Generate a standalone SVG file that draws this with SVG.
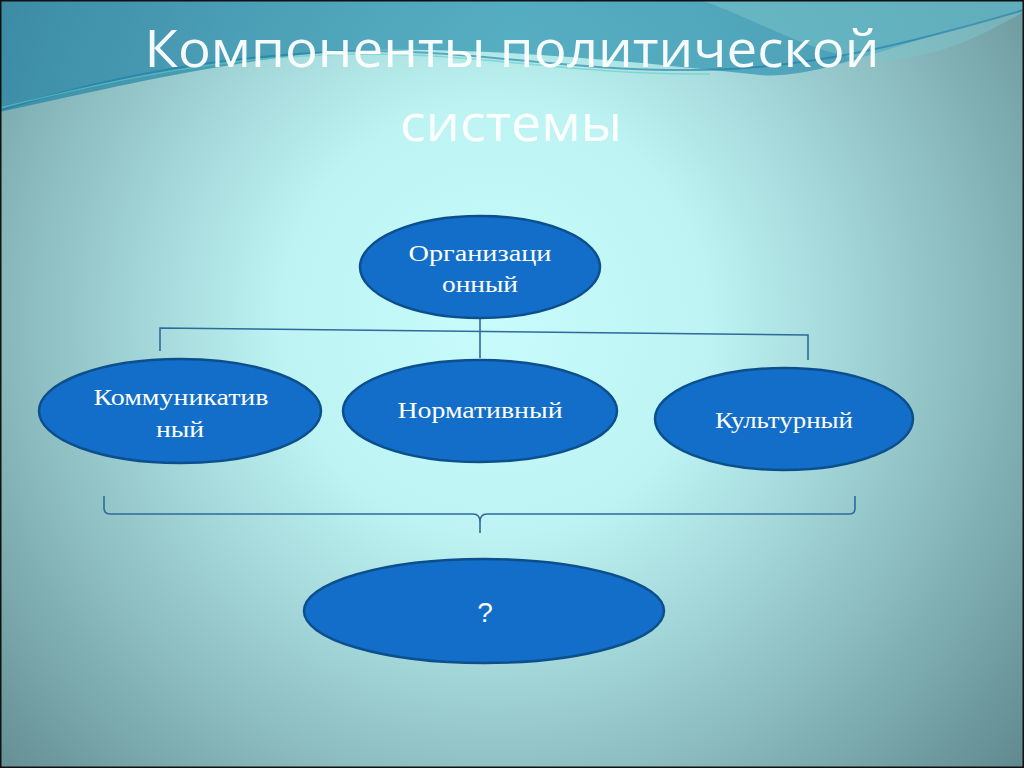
<svg xmlns="http://www.w3.org/2000/svg" width="1024" height="768" viewBox="0 0 1024 768">
<defs>
<radialGradient id="bg" cx="495" cy="320" r="720" gradientUnits="userSpaceOnUse">
<stop offset="0" stop-color="#c8fcfc"/>
<stop offset="0.3" stop-color="#bdf3f3"/>
<stop offset="0.6" stop-color="#93c5c8"/>
<stop offset="1" stop-color="#5a8388"/>
</radialGradient>
<linearGradient id="band" x1="0" y1="0" x2="1" y2="0">
<stop offset="0" stop-color="#2e86a6"/>
<stop offset="0.5" stop-color="#3fa0b8"/>
<stop offset="1" stop-color="#3b95b0"/>
</linearGradient>
<style>
.node ellipse{fill:#126ec8;stroke:#0c4f8c;stroke-width:2.5}
.lbl{font-family:"Liberation Serif","DejaVu Serif",serif;font-size:24px;fill:#ffffff;text-anchor:middle}
.conn{fill:none;stroke:#2f6a9a;stroke-width:1.6}
.title{font-family:"Open Sans","Noto Sans",sans-serif;font-size:52px;fill:#ffffff;text-anchor:middle;opacity:0.95}
</style>
</defs>
<rect width="1024" height="768" fill="url(#bg)"/>
<path d="M0,0 H1024 V10 C900,40 820,80 760,75 C620,60 420,40 300,55 C180,70 80,95 0,112 Z" fill="url(#band)" opacity="0.8"/>
<path d="M700,0 C760,20 820,60 880,60 C940,60 990,30 1024,12 V0 Z" fill="#7cc6cc" opacity="0.5"/>
<path d="M0,110 C100,80 200,58 330,52 C460,46 560,72 700,70 C820,68 920,40 1024,10" fill="none" stroke="#1c7aa8" stroke-width="2" opacity="0.6"/>
<path d="M0,108 C120,78 230,55 360,54 C480,53 580,76 710,74" fill="none" stroke="#5ad0c0" stroke-width="1.5" opacity="0.6"/>
<rect x="0.5" y="0.5" width="1023" height="767" fill="none" stroke="#111" stroke-width="2"/>
<text class="title" x="512" y="67" textLength="735" lengthAdjust="spacingAndGlyphs">Компоненты политической</text>
<text class="title" x="511" y="141" textLength="222" lengthAdjust="spacingAndGlyphs">системы</text>
<g id="connectors">
<path class="conn" d="M480,318 V358"/>
<path class="conn" d="M160,351 V328 L808,335 V360"/>
<path class="conn" d="M104,496 V508 Q104,514 110,514 H473 Q480,514 480,522 V533 M480,522 Q480,514 487,514 H850 Q855,514 855,508 V496"/>
</g>
<g id="n-org" class="node"><ellipse cx="480" cy="267" rx="120" ry="51"/><text class="lbl" x="480" y="261" textLength="143" lengthAdjust="spacingAndGlyphs">Организаци</text><text class="lbl" x="480" y="292" textLength="76" lengthAdjust="spacingAndGlyphs">онный</text></g>
<g id="n-komm" class="node"><ellipse cx="180" cy="411" rx="141" ry="52"/><text class="lbl" x="181" y="405" textLength="175" lengthAdjust="spacingAndGlyphs">Коммуникатив</text><text class="lbl" x="180" y="437" textLength="48" lengthAdjust="spacingAndGlyphs">ный</text></g>
<g id="n-norm" class="node"><ellipse cx="480" cy="411" rx="137" ry="51"/><text class="lbl" x="480" y="418" textLength="165" lengthAdjust="spacingAndGlyphs">Нормативный</text></g>
<g id="n-kult" class="node"><ellipse cx="784" cy="419" rx="129" ry="51"/><text class="lbl" x="784" y="428" textLength="138" lengthAdjust="spacingAndGlyphs">Культурный</text></g>
<g id="n-q" class="node"><ellipse cx="484" cy="611" rx="180" ry="52"/><text x="485" y="622" font-family="Liberation Sans, sans-serif" font-size="28" fill="#ffffff" text-anchor="middle">?</text></g>
</svg>
